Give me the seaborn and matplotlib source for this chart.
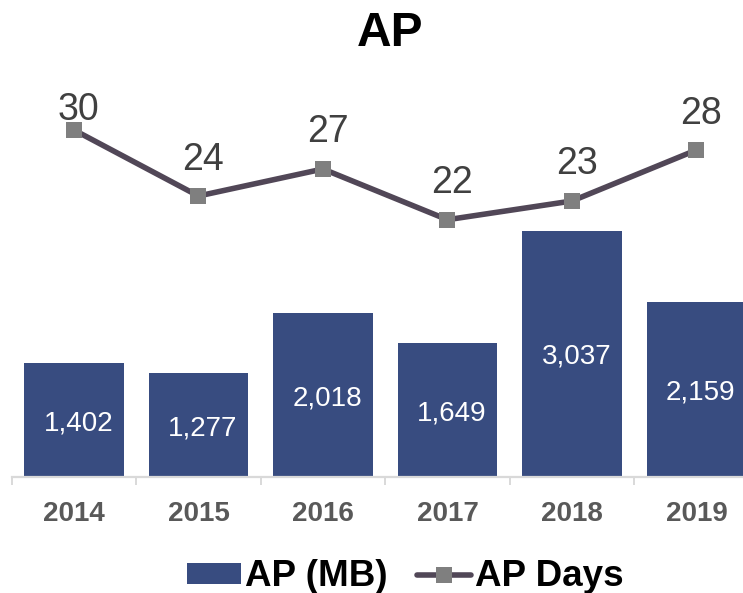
import numpy as np
import pandas as pd
import matplotlib
matplotlib.use("Agg")
import matplotlib.pyplot as plt
from matplotlib.lines import Line2D
from matplotlib.patches import Patch
import seaborn as sns

years = ["2014", "2015", "2016", "2017", "2018", "2019"]
ap_mb = [1402, 1277, 2018, 1649, 3037, 2159]
ap_days = [30.49, 23.89, 26.59, 21.52, 23.39, 28.49]

sns.set_theme(style="white")
plt.rcParams["font.family"] = ["Liberation Sans", "DejaVu Sans"]

W, H = 743, 593
BAR = "#384C80"
LINE = "#514757"
MARK = "#7F7F7F"
AXIS = "#D9D9D9"

df = pd.DataFrame({"year": years, "mb": ap_mb, "days": ap_days})

fig = plt.figure(figsize=(W / 100, H / 100), dpi=100, facecolor="white")
ax = fig.add_axes([11.7 / W, (H - 477) / H, 747 / W, 477 / H])
ax.patch.set_alpha(0)
sns.barplot(data=df, x="year", y="mb", color=BAR, saturation=1, width=0.8,
            linewidth=0, ax=ax)
ax.set_xlim(-0.5, 5.5)
ax.set_ylim(0, 477 / 0.0811)
ax.set_xlabel("")
ax.set_ylabel("")
ax.set_yticks([])
for i, v in enumerate(ap_mb):
    ax.annotate(f"{v:,}", (i, v / 2), xytext=(3.2, -2.2), textcoords="offset points",
                ha="center", va="center", color="white", fontsize=20)
for s in ["top", "left", "right"]:
    ax.spines[s].set_visible(False)
ax.spines["bottom"].set_color(AXIS)
ax.spines["bottom"].set_linewidth(1.6)
ax.set_xticks(np.arange(-0.5, 6.5, 1))
ax.set_xticklabels([])
ax.tick_params(axis="x", which="major", length=6, width=1.4, color=AXIS, bottom=True)
ax.set_xticks(np.arange(6), minor=True)
ax.set_xticklabels(years, minor=True, fontsize=20, fontweight="bold", color="#595959")
ax.tick_params(axis="x", which="minor", length=0, pad=17.5)

ax2 = ax.twinx()
ax2.patch.set_alpha(0)
sns.lineplot(data=df, x="year", y="days", sort=False, color=LINE, linewidth=4,
             marker="s", markersize=11, markerfacecolor=MARK, markeredgewidth=0,
             legend=False, ax=ax2)
ax2.set_xlim(-0.5, 5.5)
ax2.set_ylim(30.49 - 34.7, 30.49 + 13.0)
ax2.set_yticks([])
ax2.set_xlabel("")
ax2.set_ylabel("")
for s in ax2.spines.values():
    s.set_visible(False)
rises = [20 / 100 * 72] + [36.5 / 100 * 72] * 5
for i, v in enumerate(ap_days):
    ax2.annotate(f"{v:.0f}", (i, v), xytext=(3.5, rises[i]), textcoords="offset points",
                 ha="center", va="center", fontsize=27, color="#404040")

fig.text(390 / W, 1 - 34 / H, "AP", ha="center", va="center", fontsize=34.5,
         fontweight="bold", color="black")

handles = [Patch(facecolor=BAR, edgecolor="none"),
           Line2D([], [], color=LINE, linewidth=4, marker="s", markersize=11,
                  markerfacecolor=MARK, markeredgewidth=0)]
fig.legend(handles, ["AP (MB)", "AP Days"], ncol=2, loc="center",
           bbox_to_anchor=(405 / W, 1 - 577 / H), frameon=False,
           prop={"size": 26.5, "weight": "bold"}, handlelength=1.47, handleheight=0.5,
           handletextpad=0.1, columnspacing=0.8, borderpad=0, labelcolor="black")

fig.savefig("out.png", dpi=100, facecolor="white")
